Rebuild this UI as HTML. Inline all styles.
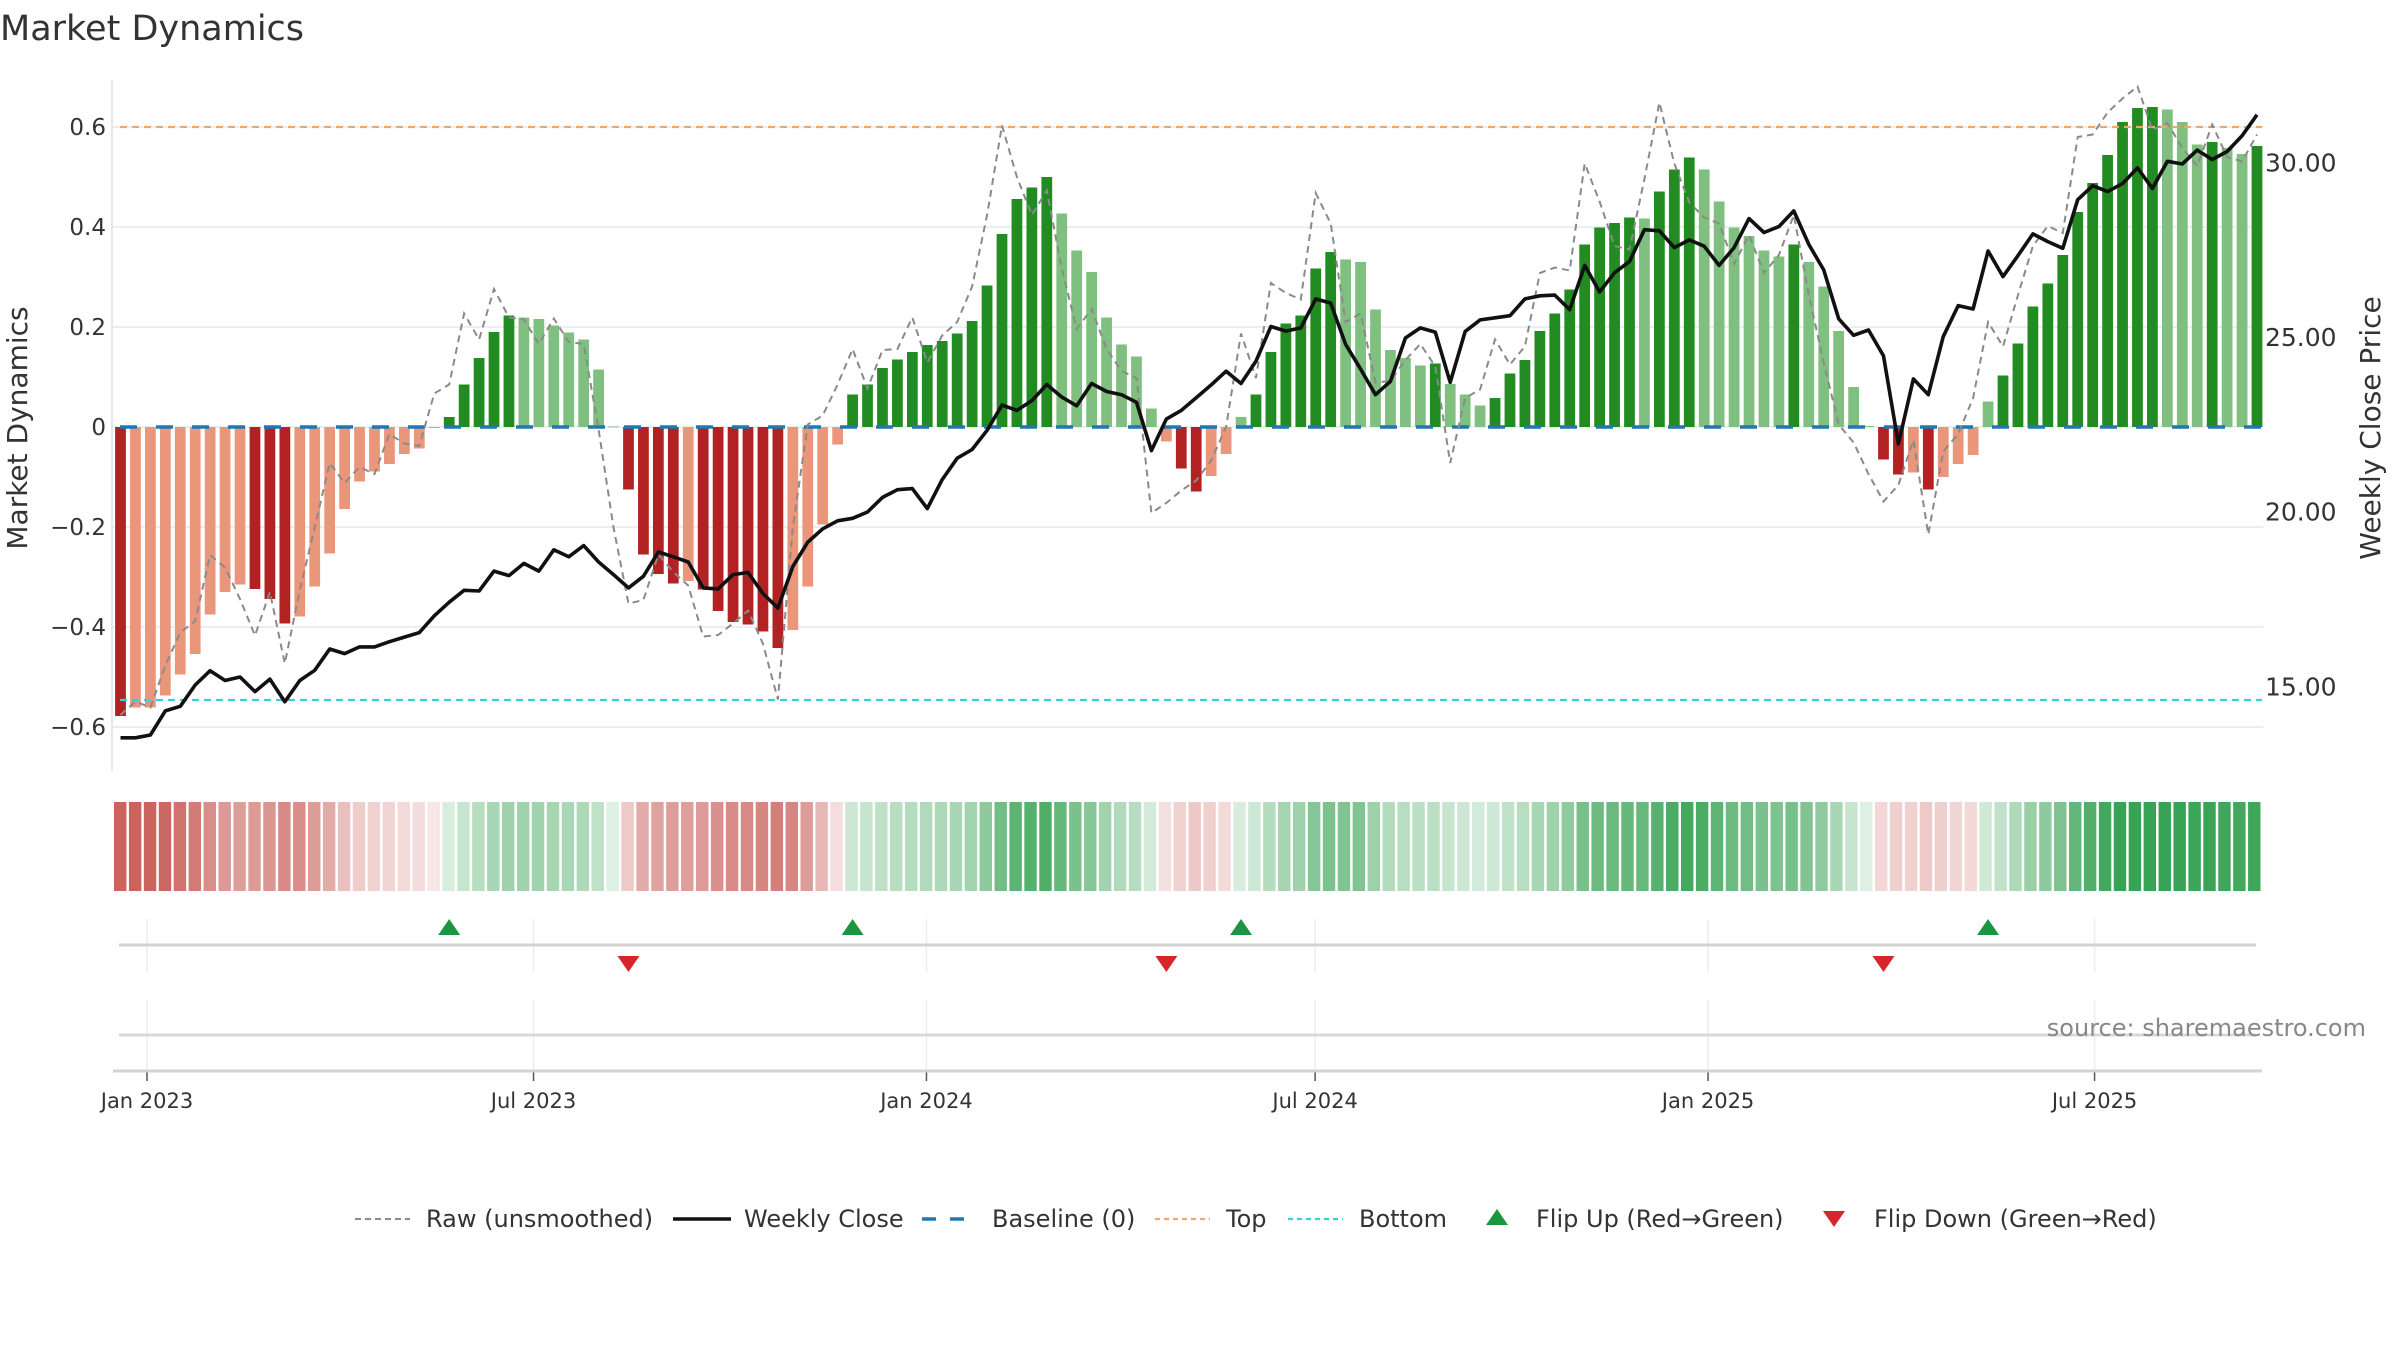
<!DOCTYPE html>
<html><head><meta charset="utf-8"><title>Market Dynamics</title>
<style>
html,body{margin:0;padding:0;background:#fff;}
svg{display:block;font-family:"DejaVu Sans","Liberation Sans",sans-serif;}
</style></head>
<body>
<svg id="chart" xmlns="http://www.w3.org/2000/svg" width="2400" height="1350" viewBox="0 0 2400 1350">
<rect x="0" y="0" width="2400" height="1350" fill="#fff"/>
<text x="0" y="40" font-size="35" fill="#333">Market Dynamics</text>
<g id="main"></g>
<g id="strip"></g>
<g id="flips"></g>
<g id="bottom"></g>
<text x="2366" y="1036" font-size="24" fill="#888" text-anchor="end">source: sharemaestro.com</text>
<g id="legend"></g>
</svg>
<script>
const dynamics = [-0.578,-0.561,-0.561,-0.537,-0.495,-0.454,-0.375,-0.330,-0.315,-0.324,-0.344,-0.393,-0.379,-0.319,-0.253,-0.164,-0.109,-0.089,-0.074,-0.054,-0.043,-0.002,
0.02,0.085,0.138,0.190,0.223,0.219,0.216,0.203,0.189,0.175,0.115,0.001,
-0.125,-0.255,-0.294,-0.313,-0.308,-0.325,-0.368,-0.390,-0.395,-0.409,-0.442,-0.406,-0.319,-0.195,-0.035,
0.065,0.085,0.118,0.135,0.150,0.164,0.172,0.187,0.212,0.283,0.386,0.456,0.479,0.500,0.427,0.353,0.310,0.219,0.165,0.141,0.037,
-0.029,-0.083,-0.129,-0.098,-0.054,
0.020,0.065,0.150,0.207,0.223,0.317,0.350,0.335,0.330,0.235,0.154,0.138,0.123,0.127,0.086,0.065,0.043,0.058,0.107,0.134,0.192,0.227,0.275,0.365,0.399,0.408,0.419,0.417,0.471,0.515,0.539,0.515,0.451,0.399,0.382,0.353,0.341,0.365,0.330,0.281,0.192,0.080,0.002,
-0.065,-0.095,-0.091,-0.125,-0.100,-0.074,-0.056,
0.051,0.103,0.167,0.241,0.287,0.344,0.430,0.488,0.544,0.610,0.638,0.640,0.635,0.610,0.565,0.570,0.558,0.546,0.562];
const rawValues = [-0.576,-0.549,-0.561,-0.477,-0.411,-0.388,-0.256,-0.281,-0.344,-0.417,-0.330,-0.473,-0.326,-0.201,-0.072,-0.112,-0.080,-0.094,-0.014,-0.033,-0.038,0.067,0.085,0.227,0.175,0.276,0.219,0.215,0.166,0.217,0.170,0.166,
-0.005,-0.201,-0.353,-0.346,-0.255,-0.290,-0.317,-0.419,-0.416,-0.393,-0.367,-0.433,-0.545,-0.201,0.005,0.023,0.085,
0.156,0.077,0.154,0.156,0.219,0.129,0.183,0.210,0.281,0.424,0.603,0.500,0.424,0.473,0.317,0.196,0.236,0.156,0.112,0.098,-0.172,-0.152,-0.127,-0.107,
-0.067,0.0,0.187,0.098,0.288,0.268,0.255,0.468,0.407,0.210,0.227,0.089,0.092,0.134,0.166,0.121,-0.072,0.058,0.075,0.175,0.125,0.161,0.308,0.319,0.313,0.527,0.451,0.362,0.355,0.496,0.649,0.527,0.449,0.419,0.407,0.326,0.384,
0.308,0.344,0.424,0.264,0.129,0.005,-0.031,-0.094,-0.149,-0.116,-0.026,-0.215,-0.049,-0.014,0.058,0.210,0.161,0.264,0.362,0.402,0.388,0.580,0.585,0.629,0.657,0.681,0.594,0.608,0.558,0.522,0.605,0.540,0.531,0.585];
const closePrices = [13.53,13.53,13.61,14.30,14.43,15.04,15.45,15.17,15.27,14.85,15.21,14.56,15.17,15.46,16.07,15.94,16.13,16.13,16.28,16.41,16.54,17.02,17.41,17.75,17.73,18.30,18.17,18.52,18.30,18.91,18.71,19.03,18.56,18.20,17.82,18.15,18.85,
18.71,18.56,17.82,17.79,18.20,18.26,17.66,17.24,18.43,19.13,19.51,19.74,19.81,19.99,20.41,20.63,20.66,20.09,20.92,21.53,21.78,22.33,23.05,22.90,23.18,23.64,23.28,23.03,23.67,23.44,23.35,23.13,21.75,22.65,22.90,23.26,
23.63,24.02,23.67,24.31,25.30,25.17,25.26,26.09,25.97,24.79,24.08,23.35,23.73,24.97,25.26,25.14,23.70,25.16,25.49,25.55,25.61,26.09,26.18,26.20,25.78,27.05,26.29,26.84,27.16,28.07,28.04,27.56,27.78,27.60,27.05,27.56,28.39,
27.99,28.16,28.61,27.65,26.92,25.52,25.05,25.20,24.46,21.94,23.80,23.35,25.01,25.90,25.80,27.46,26.73,27.33,27.95,27.73,27.54,28.93,29.33,29.16,29.39,29.84,29.25,30.03,29.95,30.35,30.08,30.31,30.76,31.36];
const leftTicks = [-0.6,-0.4,-0.2,0,0.2,0.4,0.6];
const leftTickLabels = ["\u22120.6","\u22120.4","\u22120.2","0","0.2","0.4","0.6"];
const rightTicks = [15,20,25,30];
const rightTickLabels = ["15.00","20.00","25.00","30.00"];
const dateTicks = ["2023-01-01","2023-07-01","2024-01-01","2024-07-01","2025-01-01","2025-07-01"];
const dateTickLabels = ["Jan 2023","Jul 2023","Jan 2024","Jul 2024","Jan 2025","Jul 2025"];
const topLevel = [0.6];
const bottomLevel = [-0.546];

const NS = "http://www.w3.org/2000/svg";
function mk(tag, attrs, parent){const e=document.createElementNS(NS,tag);for(const k in attrs)e.setAttribute(k,attrs[k]);parent.appendChild(e);return e;}
const X0=120.5, PITCH=(2257-120.5)/(dynamics.length-1);
function xIdx(i){return X0+PITCH*i;}
function yL(v){return 427-v*500;}
function yR(p){return 337-(p-25)*34.94;}
const D0=Date.UTC(2023,0,1);
function xDate(s){const p=s.split("-");const d=(Date.UTC(+p[0],+p[1]-1,+p[2])-D0)/86400000;return 147+d*2.1355;}

const main=document.getElementById("main");
let e=mk("line",{x1:112,y1:80,x2:112,y2:771,stroke:"#e4e8ee","stroke-width":2},main);


leftTicks.forEach((t,k)=>{
  let g=mk("line",{x1:113,y1:yL(t),x2:2263,y2:yL(t),stroke:"#eceff2","stroke-width":2},main);
  
  
  let tx=mk("text",{x:106,y:yL(t)+8,"font-size":23,fill:"#333","text-anchor":"end"},main);
  tx.textContent=leftTickLabels[k];
  
  
});
rightTicks.forEach((t,k)=>{
  let tx=mk("text",{x:2265,y:yR(t)+9,"font-size":25,fill:"#333"},main);
  tx.textContent=rightTickLabels[k];
  
  
});
e=mk("text",{x:0,y:0,"font-size":28,fill:"#333","text-anchor":"middle",transform:"translate(27,428) rotate(-90)"},main);
e.textContent="Market Dynamics";


e=mk("text",{x:0,y:0,"font-size":28,fill:"#333","text-anchor":"middle",transform:"translate(2380,428) rotate(-90)"},main);
e.textContent="Weekly Close Price";



const BW=PITCH*0.72;
dynamics.forEach((v,i)=>{
  const prev=i>0?dynamics[i-1]:0;
  const rising=i===0||Math.abs(v)>Math.abs(prev);
  let col;
  if(v>=0) col=rising?"#228b22":"#7fbf7f"; else col=rising?"#b22222":"#e9967a";
  const y1=yL(Math.max(v,0)), y2=yL(Math.min(v,0));
  let b=mk("rect",{x:xIdx(i)-BW/2,y:y1,width:BW,height:Math.max(y2-y1,0.8),fill:col},main);
  
  
});
e=mk("line",{x1:120,y1:yL(0),x2:2262,y2:yL(0),stroke:"#1f77b4","stroke-width":3.5,"stroke-dasharray":"17 19"},main);


e=mk("line",{x1:120,y1:yL(topLevel[0]),x2:2262,y2:yL(topLevel[0]),stroke:"#f0a868","stroke-width":2.2,"stroke-dasharray":"7 5"},main);


e=mk("line",{x1:120,y1:yL(bottomLevel[0]),x2:2262,y2:yL(bottomLevel[0]),stroke:"#3ccde0","stroke-width":2.2,"stroke-dasharray":"7 5"},main);


e=mk("polyline",{points:rawValues.map((v,i)=>xIdx(i).toFixed(1)+","+yL(v).toFixed(1)).join(" "),fill:"none",stroke:"#8a8a8a","stroke-width":2,"stroke-dasharray":"7 5"},main);


e=mk("polyline",{points:closePrices.map((p,i)=>xIdx(i).toFixed(1)+","+yR(p).toFixed(1)).join(" "),fill:"none",stroke:"#111","stroke-width":3.6,"stroke-linejoin":"round"},main);



const strip=document.getElementById("strip");
const SX0=113, SW=(2262-113)/dynamics.length;
dynamics.forEach((v,i)=>{
  let r,g,b,a;
  if(v<0){[r,g,b]=[200,92,86];a=Math.min(0.95,0.15+0.85*(-v)/0.59);}
  else{[r,g,b]=[40,155,70];a=Math.min(0.92,0.15+0.85*v/0.64);}
  const c=`rgb(${Math.round(r*a+255*(1-a))},${Math.round(g*a+255*(1-a))},${Math.round(b*a+255*(1-a))})`;
  let s=mk("rect",{x:SX0+SW*i+1,y:802,width:SW-2.5,height:89,fill:c},strip);
  
  
});

const flips=document.getElementById("flips");
const bottom=document.getElementById("bottom");
dateTicks.forEach((d,k)=>{
  const x=xDate(d);
  let g=mk("line",{x1:x,y1:919,x2:x,y2:972,stroke:"#ececec","stroke-width":1.5},flips);
  
  
  g=mk("line",{x1:x,y1:1000,x2:x,y2:1070,stroke:"#ececec","stroke-width":1.5},bottom);
  
  
  g=mk("line",{x1:x,y1:1071,x2:x,y2:1081,stroke:"#555","stroke-width":1.5},bottom);
  
  
  let t=mk("text",{x:x,y:1108,"font-size":21,fill:"#333","text-anchor":"middle"},bottom);
  t.textContent=dateTickLabels[k];
  
  
});
e=mk("line",{x1:119,y1:945,x2:2256,y2:945,stroke:"#d3d3d3","stroke-width":3},flips);


for(let i=1;i<dynamics.length;i++){
  const a=dynamics[i-1],b=dynamics[i];
  if(a<0&&b>0){
    const x=xIdx(i);
    let t=mk("polygon",{points:`${x-11},935 ${x+11},935 ${x},919`,fill:"#1a9641"},flips);
    
    
  } else if(a>0&&b<0){
    const x=xIdx(i);
    let t=mk("polygon",{points:`${x-11},956 ${x+11},956 ${x},972`,fill:"#d7262b"},flips);
    
    
  }
}
e=mk("line",{x1:119,y1:1035,x2:2256,y2:1035,stroke:"#d8d8d8","stroke-width":3},bottom);


e=mk("line",{x1:113,y1:1071,x2:2262,y2:1071,stroke:"#d3d3d3","stroke-width":3},bottom);



const lg=document.getElementById("legend");
const LY=1219;
function ltext(x,s){let t=mk("text",{x:x,y:LY+8,"font-size":24,fill:"#333"},lg);t.textContent=s;}
e=mk("line",{x1:355,y1:LY,x2:410,y2:LY,stroke:"#8a8a8a","stroke-width":2,"stroke-dasharray":"6 4"},lg);


ltext(426,"Raw (unsmoothed)");
e=mk("line",{x1:673,y1:LY,x2:731,y2:LY,stroke:"#111","stroke-width":3.6},lg);


ltext(744,"Weekly Close");
e=mk("line",{x1:922,y1:LY,x2:977,y2:LY,stroke:"#1f77b4","stroke-width":3.5,"stroke-dasharray":"14 14"},lg);


ltext(992,"Baseline (0)");
e=mk("line",{x1:1155,y1:LY,x2:1210,y2:LY,stroke:"#f0a868","stroke-width":2.2,"stroke-dasharray":"5 4"},lg);


ltext(1226,"Top");
e=mk("line",{x1:1288,y1:LY,x2:1343,y2:LY,stroke:"#3ccde0","stroke-width":2.2,"stroke-dasharray":"5 4"},lg);


ltext(1359,"Bottom");
e=mk("polygon",{points:`1486,${LY+6} 1508,${LY+6} 1497,${LY-10}`,fill:"#1a9641"},lg);


ltext(1536,"Flip Up (Red\u2192Green)");
e=mk("polygon",{points:`1823,${LY-8} 1845,${LY-8} 1834,${LY+8}`,fill:"#d7262b"},lg);


ltext(1874,"Flip Down (Green\u2192Red)");
</script>
</body></html>
